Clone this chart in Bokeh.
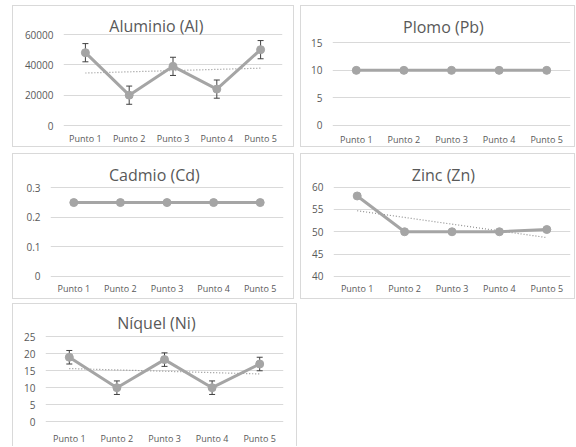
import numpy as np
from bokeh.plotting import figure
from bokeh.models import (FactorRange, Range1d, FixedTicker, Label, Whisker,
                          ColumnDataSource, TeeHead, Spacer)
from bokeh.layouts import row, column
from bokeh.embed import file_html
from bokeh.resources import INLINE

# ---- data ----
puntos = ["Punto 1", "Punto 2", "Punto 3", "Punto 4", "Punto 5"]

aluminio = [48000, 20000, 39000, 24000, 50000]
aluminio_err = [6000, 6000, 6000, 6000, 6000]
aluminio_ticks = [0, 20000, 40000, 60000]

plomo = [10, 10, 10, 10, 10]
plomo_ticks = [0, 5, 10, 15]

cadmio = [0.25, 0.25, 0.25, 0.25, 0.25]
cadmio_ticks = [0, 0.1, 0.2, 0.3]

zinc = [58, 50, 50, 50, 50.5]
zinc_ticks = [40, 45, 50, 55, 60]

niquel = [19, 10, 18.3, 10, 17]
niquel_err = [2, 2, 2, 2, 2]
niquel_ticks = [0, 5, 10, 15, 20, 25]

FONT = "Open Sans"
TXT = "#595959"
LINE = "#a5a5a5"
GRID = "#d9d9d9"


def panel(title, vals, ticks, w, h, ml, mr, y_t, y_b, x_gap, tx, ty,
          err=None, trend=False, bottom_border=True):
    cw = w - 2
    ch = h - 2 if bottom_border else h - 1
    t0, t1 = ticks[0], ticks[-1]
    dpp = (t1 - t0) / (y_b - y_t)
    y_start = t0 - 1 * dpp
    y_end = t1 + y_t * dpp
    mb = ch - y_b - 1
    fw = cw - ml - mr

    styles = {"border-top": "1px solid " + GRID,
              "border-left": "1px solid " + GRID,
              "border-right": "1px solid " + GRID}
    if bottom_border:
        styles["border-bottom"] = "1px solid " + GRID

    p = figure(width=w, height=h,
               x_range=FactorRange(*puntos),
               y_range=Range1d(y_start, y_end),
               output_backend="svg", toolbar_location=None,
               min_border_left=ml, min_border_right=mr,
               min_border_top=0, min_border_bottom=mb,
               outline_line_color=None, styles=styles)
    p.title = None
    for ax in (p.xaxis[0], p.yaxis[0]):
        ax.axis_line_color = None
        ax.major_tick_line_color = None
        ax.minor_tick_line_color = None
        ax.major_tick_out = 0
        ax.major_tick_in = 0
        ax.minor_tick_out = 0
        ax.major_label_text_font = FONT
        ax.major_label_text_color = TXT
    p.xaxis.major_label_text_font_size = "9px"
    p.xaxis.major_label_standoff = max(0, x_gap - 7)
    p.yaxis.major_label_text_font_size = "10px"
    p.yaxis.major_label_standoff = 10
    p.yaxis.ticker = FixedTicker(ticks=ticks)
    p.yaxis.major_label_overrides = {0: "0"}
    p.xgrid.grid_line_color = None
    p.ygrid.grid_line_color = GRID
    p.ygrid.grid_line_width = 1

    if trend:
        xs = np.arange(1, 6)
        k, b = np.polyfit(xs, np.array(vals, dtype=float), 1)
        p.line(puntos, list(k * xs + b), line_color="#8f8f8f", line_width=1.2,
               line_dash="1 2")

    p.line(puntos, vals, line_color=LINE, line_width=3)
    p.scatter(puntos, vals, size=8, fill_color=LINE, line_color=LINE)

    if err is not None:
        src = ColumnDataSource(dict(x=puntos,
                                    lower=[v - e for v, e in zip(vals, err)],
                                    upper=[v + e for v, e in zip(vals, err)]))
        p.add_layout(Whisker(base="x", lower="lower", upper="upper", source=src,
                             line_color="#404040", line_width=1,
                             upper_head=TeeHead(size=6, line_color="#404040", line_width=1),
                             lower_head=TeeHead(size=6, line_color="#404040", line_width=1)))

    # title placed inside the (extended) frame
    lx = (tx - ml) / fw * len(puntos)
    ly = t1 + (y_t - ty) * dpp
    p.add_layout(Label(x=lx, y=ly, text=title,
                       text_align="center", text_baseline="middle",
                       text_font=FONT, text_font_size="16px", text_color=TXT))
    return p


p1 = panel("Aluminio (Al)", aluminio, aluminio_ticks, 282, 142, 50, 13, 28, 119, 12, 142, 19,
           err=aluminio_err, trend=True)
p2 = panel("Plomo (Pb)", plomo, plomo_ticks, 275, 142, 31, 6, 36, 118, 13, 141, 20)
p3 = panel("Cadmio (Cd)", cadmio, cadmio_ticks, 282, 146, 37, 12, 33, 121, 11, 140, 20)
p4 = panel("Zinc (Zn)", zinc, zinc_ticks, 275, 146, 32, 6, 32, 120, 11, 141, 20, trend=True)
p5 = panel("Níquel (Ni)", niquel, niquel_ticks, 285, 143, 32, 15, 33, 119, 16, 142, 19,
           err=niquel_err, trend=True, bottom_border=False)

layout = column(
    Spacer(width=10, height=5),
    row(Spacer(width=12, height=10), p1, Spacer(width=6, height=10), p2),
    Spacer(width=10, height=6),
    row(Spacer(width=12, height=10), p3, Spacer(width=6, height=10), p4),
    Spacer(width=10, height=4),
    row(Spacer(width=12, height=10), p5),
)

open("out.html", "w").write(file_html(layout, INLINE))
